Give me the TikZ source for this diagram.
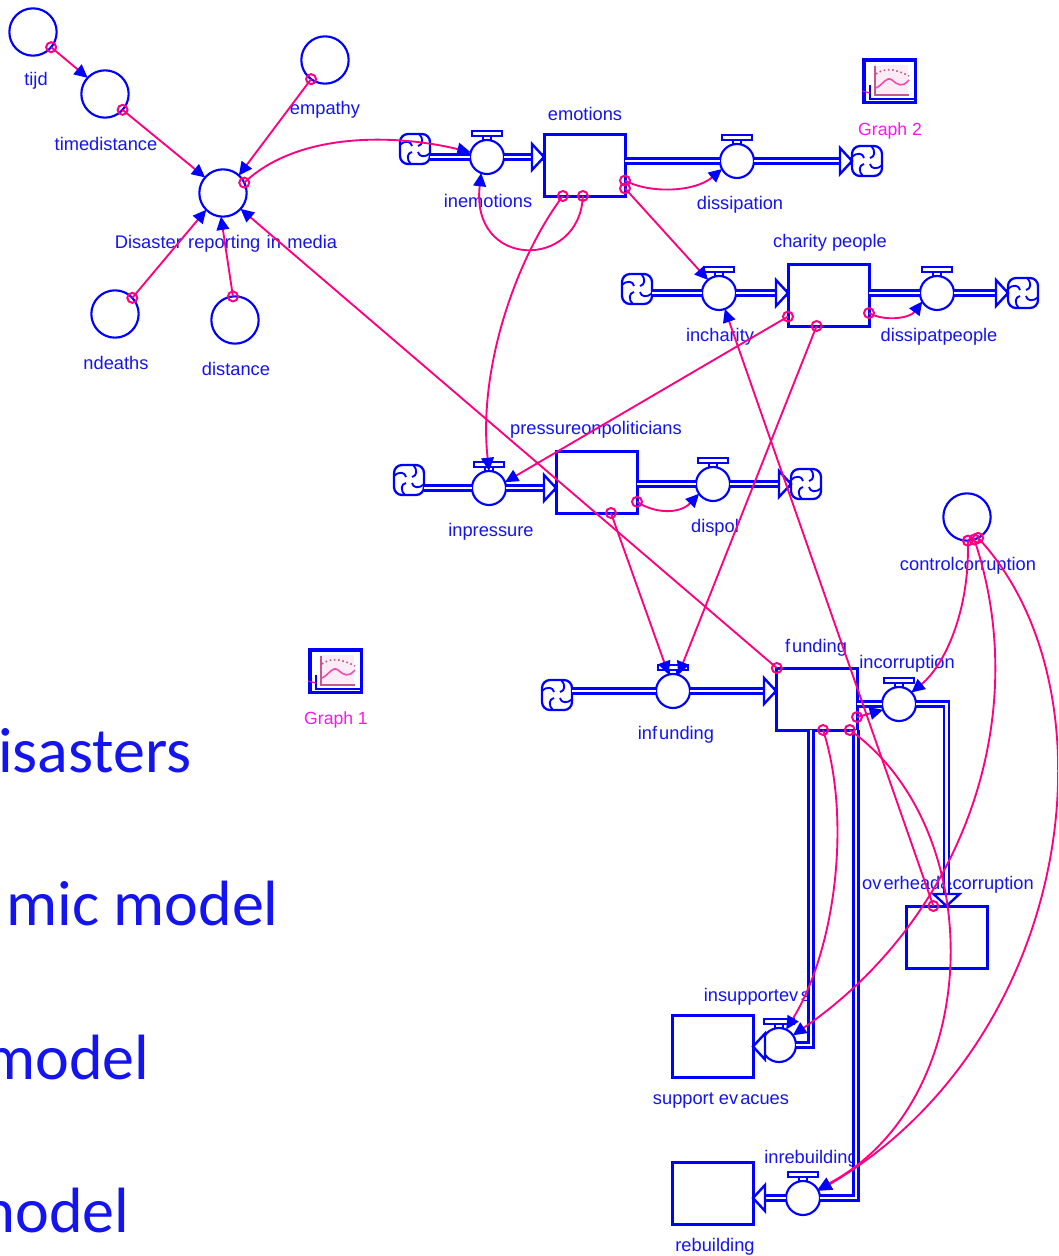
\documentclass[tikz,border=0pt]{standalone}
\usepackage{fontspec}
\setmainfont{Liberation Sans}
\newfontfamily\bigfont{Carlito}
\usetikzlibrary{arrows.meta}
\definecolor{sblue}{RGB}{0,0,255}
\definecolor{lblue}{RGB}{20,20,240}
\definecolor{spink}{RGB}{255,0,128}
\definecolor{gmag}{RGB}{255,20,240}
\tikzset{
 stockbox/.style={draw=sblue,line width=2.25pt,minimum width=60.75pt,minimum height=46.5pt,inner sep=0pt,outer sep=0pt},
 convcirc/.style={circle,draw=sblue,line width=1.6pt,minimum size=35.5pt,inner sep=0pt,outer sep=0pt},
 valvecirc/.style={circle,draw=sblue,line width=1.6pt,minimum size=25.5pt,inner sep=0pt,outer sep=0pt},
 valvebar/.style={draw=sblue,line width=1.7pt,fill=white},
 cloudbox/.style={rectangle,rounded corners=6pt,draw=sblue,line width=1.7pt,minimum size=22.5pt,inner sep=0pt,outer sep=0pt},
 swirl/.style={draw=sblue,line width=1.4pt},
 pipe/.style={draw=sblue,double=white,line width=1.8pt,double distance=1.9pt},
 pipetip/.style={draw=sblue,fill=white,line width=1.8pt,line join=miter},
 lbl/.style={font=\fontsize{13.7pt}{15pt}\selectfont,text=lblue,inner sep=0pt,yshift=-1.5pt},
 glbl/.style={font=\fontsize{13.2pt}{15pt}\selectfont,text=gmag,inner sep=0pt,yshift=-1.5pt},
 biglbl/.style={font=\bigfont\fontsize{48pt}{52pt}\selectfont,text=lblue,inner sep=0pt,anchor=base west},
 link/.style={draw=spink,line width=1.4pt,-{Triangle[color=sblue,length=10pt,width=9.5pt]}},
 mk/.style={draw=spink,line width=1.5pt},
 gframe/.style={draw=sblue,line width=2.5pt},
}
\newcommand\Valve[3]{\node[valvecirc] (#1) at (#2,#3) {};
 \draw[valvebar,shift={(#1.center)}] (-15,-26) rectangle (15,-21);
 \draw[draw=sblue,line width=1.3pt,shift={(#1.center)}] (-4,-21) -- (-4,-16.5) (4,-21) -- (4,-16.5);}
\newcommand\Cloud[3]{\node[cloudbox] (#1) at (#2,#3) {};
 \foreach \r in {0,90,180,270}{\draw[swirl,shift={(#1.center)},rotate=\r] (4,-15) .. controls (9,-10) and (8,-4) .. (3,-3);}}
\newcommand\PTip[2]{\draw[pipetip,shift={(#1)},rotate=#2] (0,0) -- (-12,-13) -- (-12,13) -- cycle;}
\newcommand\Link[2]{\draw[link] (#1) #2; \draw[mk] (#1) circle (5);}
\newcommand\GraphIcon[3]{\begin{scope}[shift={(#2,#3)}]
 \node[gframe,rectangle,minimum width=38.5pt,minimum height=32pt,inner sep=0pt,outer sep=0pt,anchor=north west] (#1) at (0,0) {};
 \fill[magenta!8] (10,5) rectangle (44,35);
 \draw[magenta!70!black!80,line width=1.1pt] (11,6) -- (11,35) -- (45,35);
 \draw[magenta!70,line width=1.2pt] (12,28) .. controls (20,24) and (22,16) .. (28,20) .. controls (34,25) and (38,28) .. (45,20);
 \draw[magenta!60!black!80,line width=1.2pt,dotted] (12,14) .. controls (20,8) and (30,8) .. (45,16);
 \draw[sblue,line width=1pt] (6,25) -- (6,39) -- (50,39);
 \draw[spink,line width=0.9pt] (-2,31) -- (6,33);
 \end{scope}}
\begin{document}
\begin{tikzpicture}[x=0.75pt,y=-0.75pt,line cap=butt]
\useasboundingbox (0,0) rectangle (1058,1256);
\clip (0,0) rectangle (1058,1256);
\fill[white] (0,0) rectangle (1058,1256);

% large background text
\node[biglbl] (big1) at (-2,772) {isasters};
\node[biglbl] (big2) at (6,925) {mic model};
\node[biglbl] (big3) at (-16,1079) {model};
\node[biglbl] (big4) at (-36,1232) {model};

% labels
\node[lbl] (Ltijd) at (36,79) {tijd};
\node[lbl] (Ltimed) at (106,142) {timedistance};
\node[lbl] (Lemp) at (325,108) {empathy};
\node[lbl] (Ldis) at (226,242) {Disaster\hspace{1pt} reporting\hspace{1pt} in\hspace{1pt} media};
\node[lbl] (Lnd) at (116,361) {ndeaths};
\node[lbl] (Ldist) at (236,367) {distance};
\node[lbl] (Lemo) at (585,112) {emotions};
\node[lbl] (Linemo) at (488,199) {inemotions};
\node[lbl] (Ldissi) at (740,203) {dissipation};
\node[lbl] (Lchar) at (830,241) {charity people};
\node[lbl] (Linch) at (720,335) {incharity};
\node[lbl] (Ldisp) at (939,335) {dissipatpeople};
\node[lbl] (Lpres) at (596,428) {pressureonpoliticians};
\node[lbl] (Linpr) at (491,530) {inpressure};
\node[lbl] (Ldpol) at (715,526) {dispol};
\node[lbl] (Lctrl) at (968,564) {controlcorruption};
\node[lbl] (Lfund) at (816,646) {f\kern1.5pt unding};
\node[lbl] (Linco) at (907,662) {incorruption};
\node[lbl] (Linfu) at (676,733) {inf\kern1.5pt unding};
\node[lbl] (Lover) at (948,883) {ov\kern1.5pt erhead\&corruption};
\node[lbl] (Linsu) at (757,995) {insupportev\kern2pt s};
\node[lbl] (Lsupp) at (721,1098) {support ev\kern1.5pt acues};
\node[lbl] (Linre) at (811,1157) {inrebuilding};
\node[lbl] (Lrebu) at (715,1245) {rebuilding};
\node[glbl] (Lg2) at (890,129) {Graph 2};
\node[glbl] (Lg1) at (336,718) {Graph 1};

% graph icons
\GraphIcon{graphA}{310}{650}
\GraphIcon{graphB}{864}{60}

% stocks
\node[stockbox] (emotions) at (584.5,165) {};
\node[stockbox] (charity) at (828.5,295) {};
\node[stockbox] (pressure) at (596.5,482) {};
\node[stockbox] (funding) at (816.5,699) {};
\node[stockbox] (overhead) at (946.5,937) {};
\node[stockbox] (support) at (712.5,1046.5) {};
\node[stockbox] (rebuild) at (712.5,1193) {};

% converters
\node[convcirc] (tijd) at (33,32) {};
\node[convcirc] (timed) at (105,94) {};
\node[convcirc] (empathy) at (325,60) {};
\node[convcirc] (disaster) at (223,193) {};
\node[convcirc] (ndeaths) at (115,314) {};
\node[convcirc] (distance) at (235,320) {};
\node[convcirc] (control) at (967,517) {};

% valves
\Valve{vInemo}{487}{157}
\Valve{vDissi}{737}{161}
\Valve{vInch}{719}{293}
\Valve{vDisp}{937}{293}
\Valve{vInpr}{489}{488}
\Valve{vDpol}{713}{484}
\Valve{vInfu}{673}{691}
\Valve{vInco}{899}{704}
\Valve{vInsu}{779}{1045}
\Valve{vInre}{803}{1198}

% clouds
\Cloud{c1}{415}{149}
\Cloud{c2}{867}{161}
\Cloud{c3}{637}{289}
\Cloud{c4}{1023}{293}
\Cloud{c5}{409}{480}
\Cloud{c6}{806}{484}
\Cloud{c7}{557}{695}

% pipes
\coordinate (fsA) at (811,730);
\coordinate (fsB) at (856,730);
\draw[pipe] (c1.east |- vInemo.west) -- (vInemo.west);
\draw[pipe] (vInemo.east) -- (emotions.west |- vInemo.east);
\draw[pipe] (emotions.east |- vDissi.west) -- (vDissi.west);
\draw[pipe] (vDissi.east) -- (c2.west |- vDissi.east);
\draw[pipe] (c3.east |- vInch.west) -- (vInch.west);
\draw[pipe] (vInch.east) -- (charity.west |- vInch.east);
\draw[pipe] (charity.east |- vDisp.west) -- (vDisp.west);
\draw[pipe] (vDisp.east) -- (c4.west |- vDisp.east);
\draw[pipe] (c5.east |- vInpr.west) -- (vInpr.west);
\draw[pipe] (vInpr.east) -- (pressure.west |- vInpr.east);
\draw[pipe] (pressure.east |- vDpol.west) -- (vDpol.west);
\draw[pipe] (vDpol.east) -- (c6.west |- vDpol.east);
\draw[pipe] (c7.east |- vInfu.west) -- (vInfu.west);
\draw[pipe] (vInfu.east) -- (funding.west |- vInfu.east);
\draw[pipe] (funding.east |- vInco.west) -- (vInco.west);
\draw[pipe] (vInco.east) -| (overhead.north);
\draw[pipe] (fsA) |- (vInsu.east);
\draw[pipe] (fsB) |- (vInre.east);
\draw[pipe] (vInre.west) -- (rebuild.east |- vInre.west);

% pipe arrowheads
\PTip{emotions.west |- vInemo.east}{0}
\PTip{c2.west |- vDissi.east}{0}
\PTip{charity.west |- vInch.east}{0}
\PTip{c4.west |- vDisp.east}{0}
\PTip{pressure.west |- vInpr.east}{0}
\PTip{c6.west |- vDpol.east}{0}
\PTip{funding.west |- vInfu.east}{0}
\PTip{overhead.north}{-90}
\PTip{support.east}{180}
\PTip{rebuild.east |- vInre.west}{180}

% connectors
\Link{tijd.-40}{-- (timed.137)}
\Link{timed.-42}{-- (disaster.139)}
\Link{empathy.234}{-- (disaster.48)}
\Link{ndeaths.43}{-- (disaster.225)}
\Link{distance.95}{-- (disaster.265)}
\Link{disaster.26}{.. controls (300,130) and (400,135) .. (vInemo.164)}
\Link{funding.142.6}{-- (disaster.-42)}
\Link{emotions.267.2}{.. controls (580,270) and (470,270) .. (vInemo.250)}
\Link{emotions.235.3}{.. controls (515,260) and (478,370) .. (vInpr.90)}
\Link{emotions.-21.6}{.. controls (650,194) and (695,192) .. (vDissi.208)}
\Link{emotions.-30.6}{-- (vInch.130)}
\Link{charity.-24}{.. controls (885,322) and (910,318) .. (vDisp.210)}
\Link{charity.208}{-- (vInpr.20)}
\Link{charity.249.6}{-- (vInfu.72)}
\Link{pressure.-26.3}{.. controls (655,514) and (680,514) .. (vDpol.215)}
\Link{pressure.-65}{-- (vInfu.105)}
\Link{overhead.113.5}{-- (vInch.-70)}
\Link{funding.-24}{-- (vInco.200)}
\Link{funding.-43.6}{.. controls (990,830) and (985,1100) .. (vInre.30)}
\Link{funding.-78}{.. controls (852,820) and (835,950) .. (vInsu.65)}
\Link{control.-88}{.. controls (970,610) and (945,665) .. (vInco.43)}
\Link{control.-72}{.. controls (1035,720) and (960,920) .. (vInsu.35)}
\Link{control.-62}{.. controls (1120,690) and (1075,1040) .. (vInre.25)}
\end{tikzpicture}
\end{document}
